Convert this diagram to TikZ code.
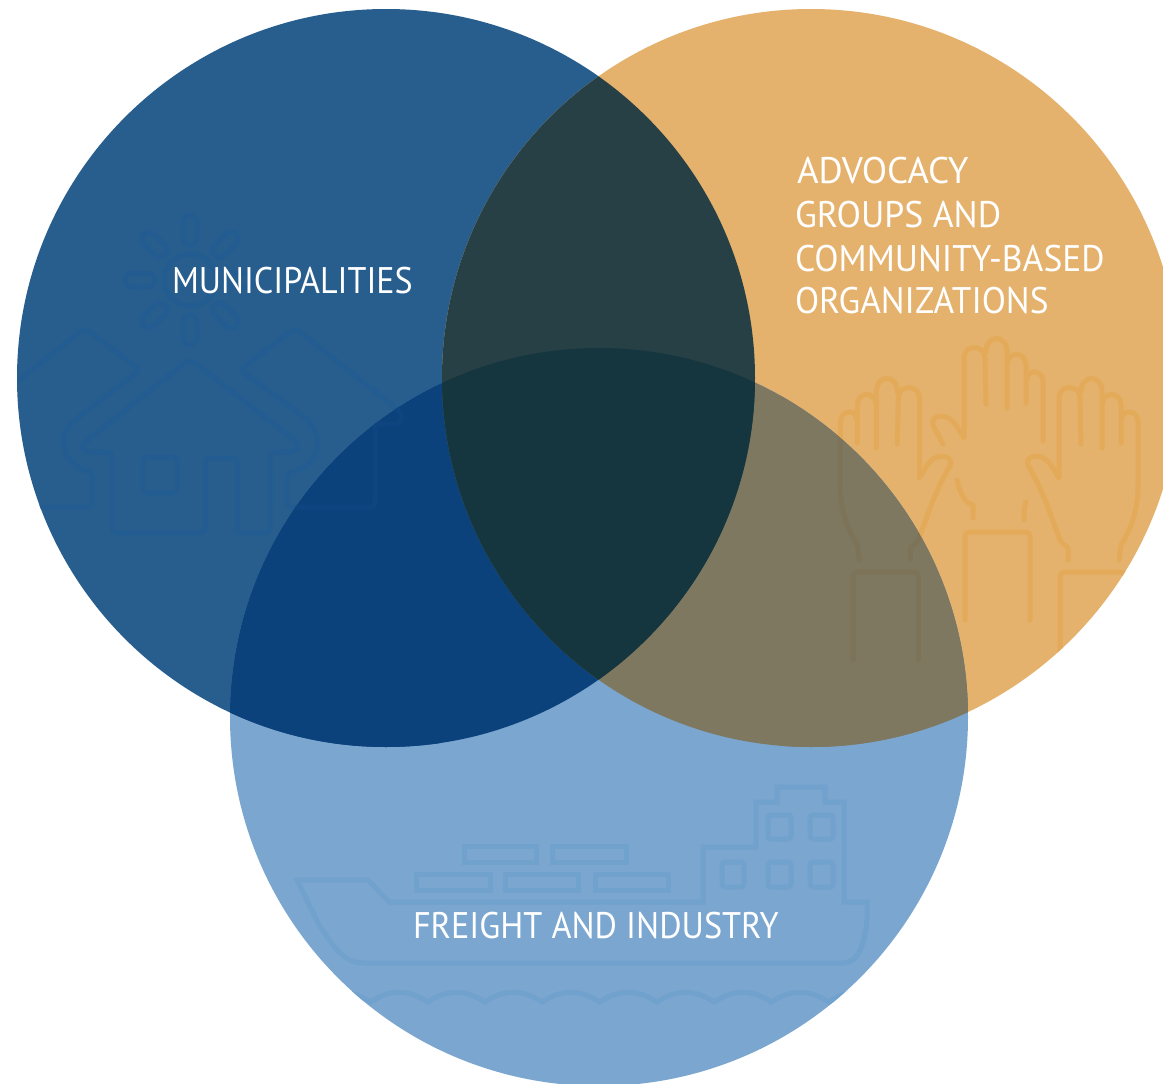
\documentclass[tikz,border=0pt]{standalone}
\usepackage{fontspec}
\setmainfont{PT Sans}
\definecolor{cA}{HTML}{285E8E}
\definecolor{cB}{HTML}{E5B26D}
\definecolor{cC}{HTML}{7BA6CF}
\definecolor{cAB}{HTML}{274045}
\definecolor{cAC}{HTML}{0C427B}
\definecolor{cBC}{HTML}{7F7860}
\definecolor{cABC}{HTML}{15363F}
\definecolor{iconA}{HTML}{235C90}
\definecolor{iconAC}{HTML}{0E4580}
\definecolor{iconB}{HTML}{E3AA59}
\definecolor{iconBC}{HTML}{7C7359}
\definecolor{iconC}{HTML}{71A1CD}
\tikzset{
  icon/.style={line width=5pt,line cap=round,line join=round},
  vlabel/.style={text=white,inner sep=0pt,outer sep=0pt,align=left,transform shape,font=\fontsize{37}{43.5}\selectfont}
}
\newcommand{\clipA}{\clip (386,378) circle[radius=369pt];}
\newcommand{\clipB}{\clip (811,378) circle[radius=369pt];}
\newcommand{\clipC}{\clip (599,717) circle[radius=369pt];}
\newcommand{\housepaths}[1]{%
  \begin{scope}[icon,draw=#1]
    \draw[rounded corners=5pt] (190,359) -- (297,442) .. controls (298,448) and (292,452) .. (285,452) -- (270,452) -- (270,533) -- (237,533) -- (237,458) -- (205,458) -- (205,533) -- (112,533) -- (112,452) -- (95,452) .. controls (88,452) and (82,448) .. (85,442) -- cycle;
    \draw[rounded corners=4pt] (143,457) rectangle (177,493);
    \draw[rounded corners=4pt] (287,473) .. controls (305,470) and (317,458) .. (317,442) .. controls (317,428) and (305,418) .. (295,410) -- (240,370) -- (295,328) -- (402,413) -- (400,424) -- (375,424) -- (375,507) -- (287,507) -- cycle;
    \draw[rounded corners=4pt] (0,395) -- (85,328) -- (140,370) -- (75,420) .. controls (66,428) and (63,435) .. (64,445) .. controls (66,458) and (78,470) .. (92,472) -- (92,507) -- (0,507);
    \draw (190,280) circle[radius=26pt];
    \foreach \a in {0,45,...,315}
      \draw[rotate around={\a:(190,280)},rounded corners=7pt] (183,215) rectangle (197,245);
  \end{scope}}
\newcommand{\handcore}{%
  (943,444) -- (933,425) .. controls (930,416) and (943,414) .. (950,419) .. controls (956,423) and (960,432) .. (964,438) -- (964,358) .. controls (964,344) and (985,344) .. (985,358) -- (986,404)
  (986,352) .. controls (986,334) and (1007,334) .. (1007,352) -- (1007,408)
  (1007,365) .. controls (1008,350) and (1026,352) .. (1026,365) -- (1026,403)
  (1026,380) .. controls (1028,368) and (1043,370) .. (1043,382) -- (1043,441)}
\newcommand{\handsleeve}{[rounded corners=4pt] (965,620) -- (965,532) -- (1030,532) -- (1030,620) [rounded corners=0pt]}
\newcommand{\handpaths}[1]{%
  \begin{scope}[icon,draw=#1]
    % middle hand
    \draw \handcore;
    \draw \handsleeve;
    \draw (957,480) .. controls (961,495) and (964,502) .. (973,505) -- (973,518);
    \draw (1026,502) .. controls (1024,508) and (1024,513) .. (1024,520);
    % right hand
    \begin{scope}[shift={(95,40)}]
      \draw \handcore;
      \draw \handsleeve;
      \draw (943,444) -- (951,462) -- (965,500) .. controls (968,506) and (972,505) .. (973,508) -- (973,520);
      \draw (1043,441) -- (1043,450) .. controls (1042,475) and (1034,492) .. (1026,505) -- (1024,520);
    \end{scope}
    % left hand (mirror of the right one)
    \begin{scope}[shift={(1883.3,40)},xscale=-1]
      \draw \handcore;
      \draw \handsleeve;
      \draw (943,444) -- (951,462) -- (965,500) .. controls (968,506) and (972,505) .. (973,508) -- (973,520);
      \draw (1043,441) -- (1043,450) .. controls (1042,475) and (1034,492) .. (1026,505) -- (1024,520);
    \end{scope}
  \end{scope}}
\begin{document}
\begin{tikzpicture}[x=1pt,y=-1pt]
\useasboundingbox (0,0) rectangle (1163,1084);
\clip (0,0) rectangle (1163,1084);
\fill[white] (0,0) rectangle (1163,1084);
% base discs
\fill[cA] (386,378) circle[radius=369pt];
\fill[cB] (811,378) circle[radius=369pt];
\fill[cC] (599,717) circle[radius=369pt];
% overlaps
\begin{scope}\clipA\fill[cAC] (599,717) circle[radius=369pt];\end{scope}
\begin{scope}\clipB\fill[cBC] (599,717) circle[radius=369pt];\end{scope}
\begin{scope}\clipA\fill[cAB] (811,378) circle[radius=369pt];\end{scope}
\begin{scope}\clipA\clipB\fill[cABC] (599,717) circle[radius=369pt];\end{scope}
% house icon
\begin{scope}\clipA
  \housepaths{iconA}
  \begin{scope}\clipC\fill[cAC] (0,0) rectangle (441,800);\housepaths{iconAC}\end{scope}
\end{scope}
% hands icon
\begin{scope}\clipB
  \handpaths{iconB}
  \begin{scope}\clipC\fill[cBC] (780,300) rectangle (1000,800);\handpaths{iconBC}\end{scope}
\end{scope}
% ship icon
\begin{scope}\clipC
 \begin{scope}[icon,draw=iconC,line join=miter,line cap=butt]
  \draw (297,880) -- (368,880) -- (389,902) -- (703,902) -- (703,847) -- (756,847) -- (756,802) -- (777,802) -- (777,787) -- (825,787) -- (825,802) -- (844,802) -- (844,902) -- (867,902) -- (867,920) .. controls (865,940) and (860,963) .. (843,963) -- (364,963) .. controls (345,963) and (335,950) .. (318,923) -- cycle;
  \draw (464,846) rectangle (536,862);
  \draw (552,846) rectangle (626,862);
  \draw (416,874) rectangle (490,890);
  \draw (505,874) rectangle (578,890);
  \draw (595,874) rectangle (668,890);
  \draw[rounded corners=3pt] (768,815) rectangle (791,839);
  \draw[rounded corners=3pt] (810,815) rectangle (833,839);
  \draw[rounded corners=3pt] (722,862) rectangle (744,887);
  \draw[rounded corners=3pt] (768,862) rectangle (791,887);
  \draw[rounded corners=3pt] (810,862) rectangle (833,887);
  \draw (313,1002)
    .. controls +(20,-13) and +(-20,-13) .. ++(57.3,0)
    .. controls +(20,-13) and +(-20,-13) .. ++(57.3,0)
    .. controls +(20,-13) and +(-20,-13) .. ++(57.3,0)
    .. controls +(20,-13) and +(-20,-13) .. ++(57.3,0)
    .. controls +(20,-13) and +(-20,-13) .. ++(57.3,0)
    .. controls +(20,-13) and +(-20,-13) .. ++(57.3,0)
    .. controls +(20,-13) and +(-20,-13) .. ++(57.3,0)
    .. controls +(20,-13) and +(-20,-13) .. ++(57.3,0)
    .. controls +(20,-13) and +(-20,-13) .. ++(57.3,0)
    .. controls +(20,-13) and +(-20,-13) .. ++(57.3,0);
 \end{scope}
\end{scope}
% labels
\node[vlabel,anchor=base west,xscale=0.92] (municipalities) at (172,293) {MUNICIPALITIES};
\node[vlabel,anchor=base west,xscale=0.926] (freight) at (413,938) {FREIGHT AND INDUSTRY};
\node[vlabel,anchor=base west] (adv1) at (797,183) {ADVOCACY};
\node[vlabel,anchor=base west,xscale=0.966] (adv2) at (795,227) {GROUPS AND};
\node[vlabel,anchor=base west,xscale=0.96] (adv3) at (795,271) {COMMUNITY-BASED};
\node[vlabel,anchor=base west,xscale=0.955] (adv4) at (795,313) {ORGANIZATIONS};
\end{tikzpicture}
\end{document}
